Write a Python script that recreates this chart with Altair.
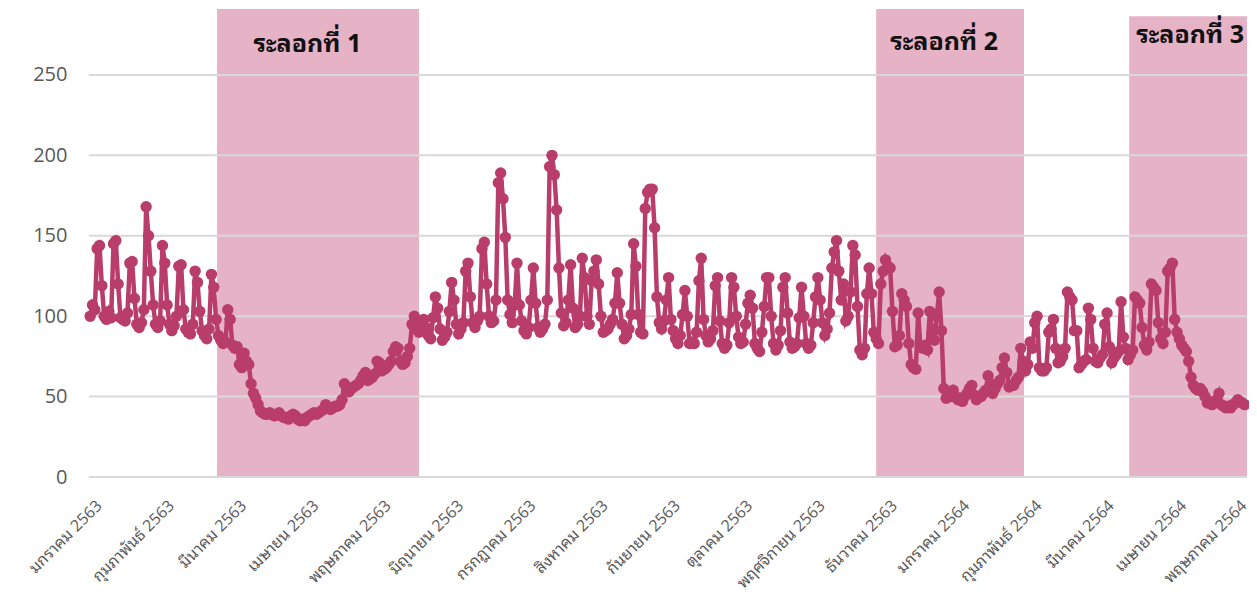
import altair as alt
import pandas as pd

# Daily values (index 0 = first day of มกราคม 2563)
values = [
    100, 107, 104, 142, 144, 119, 100,
    98, 103, 99, 145, 147, 120, 99,
    98, 97, 102, 133, 134, 111, 95,
    93, 96, 104, 168, 150, 128, 107,
    95, 93, 97, 144, 133, 107, 95,
    91, 94, 100, 131, 132, 104, 92,
    90, 89, 95, 128, 121, 103, 91,
    88, 86, 92, 126, 118, 98, 88,
    85, 83, 84, 104, 98, 82, 80,
    81, 70, 68, 77, 72, 70, 58,
    52, 49, 45, 41, 40, 39, 39,
    40, 39, 38, 39, 40, 38, 37,
    37, 36, 38, 39, 38, 36, 35,
    36, 35, 37, 38, 39, 40, 39,
    40, 41, 42, 45, 43, 42, 43, 44,
    44, 45, 48, 58, 54, 53, 55,
    56, 57, 58, 60, 63, 65, 60,
    61, 62, 64, 72, 71, 66, 67,
    68, 70, 72, 78, 81, 80, 72,
    70, 71, 75, 80, 95, 100, 92,
    90, 96, 98, 93, 88, 86, 99,
    112, 105, 92, 85, 87, 90, 103,
    121, 110, 95, 89, 92, 96, 128,
    133, 112, 96, 93, 97, 100, 142,
    146, 120, 100, 96, 97, 110, 183,
    189, 173, 149, 110, 101, 96, 107,
    133, 107, 97, 91, 89, 93, 110,
    130, 108, 93, 90, 92, 95, 110,
    193, 200, 188, 166, 130, 102, 94,
    96, 110, 132, 105, 93, 95, 100,
    136, 124, 100, 95, 122, 128, 135,
    120, 100, 90, 91, 92, 95, 98, 108,
    127, 108, 95, 86, 88, 92, 101,
    145, 131, 101, 90, 89, 167, 177,
    179, 179, 155, 112, 96, 92, 97,
    110, 124, 98, 91, 86, 83, 88,
    101, 116, 100, 83, 84, 83, 90,
    122, 136, 98, 88, 84, 86, 91,
    119, 124, 97, 83, 80, 82, 96,
    124, 118, 100, 87, 83, 84, 95,
    108, 113, 105, 83, 80, 78, 90,
    106, 124, 124, 100, 83, 79, 82,
    91, 118, 124, 102, 84, 80, 81, 83,
    99, 118, 100, 83, 80, 82, 96,
    112, 124, 110, 96, 88, 92, 102,
    130, 140, 147, 128, 110, 120, 97,
    100, 115, 144, 138, 106, 79, 76,
    80, 114, 130, 114, 90, 86, 83,
    120, 128, 135, 131, 130, 103, 81,
    82, 88, 114, 110, 106, 83, 70,
    68, 67, 102, 81, 80, 82, 79,
    103, 90, 85, 100, 115, 91, 55,
    49, 51, 50, 54, 50, 48, 49,
    47, 50, 52, 55, 57, 51, 48,
    50, 50, 52, 54, 63, 58, 52,
    55, 58, 60, 68, 74, 65, 56,
    57, 57, 60, 62, 80, 72, 66,
    70, 84, 80, 96, 100, 68, 66,
    66, 68, 90, 92, 98, 80, 71,
    72, 75, 80, 115, 112, 110, 91,
    91, 68, 70, 72, 73, 105, 98,
    80, 72, 71, 74, 76, 95, 102,
    81, 71, 74, 76, 78, 109, 87,
    80, 73, 76, 79, 112, 110, 108,
    93, 82, 79, 84, 120, 118, 116,
    96, 86, 83, 90, 128, 130, 133,
    98, 90, 86, 82, 80, 78, 72,
    62, 57, 55, 54, 55, 53, 50,
    46, 47, 45, 46, 48, 52, 45,
    44, 43, 44, 43, 45, 46, 48,
    47, 46, 45,
]

month_labels = [
    "มกราคม 2563", "กุมภาพันธ์ 2563", "มีนาคม 2563", "เมษายน 2563",
    "พฤษภาคม 2563", "มิถุนายน 2563", "กรกฎาคม 2563", "สิงหาคม 2563",
    "กันยายน 2563", "ตุลาคม 2563", "พฤศจิกายน 2563", "ธันวาคม 2563",
    "มกราคม 2564", "กุมภาพันธ์ 2564", "มีนาคม 2564", "เมษายน 2564",
    "พฤษภาคม 2564",
]
month_ticks = [0, 31, 62, 93, 124, 155, 186, 217, 248, 279, 310, 341,
               372, 403, 434, 465, 496]

wave_names = ["ระลอกที่ 1", "ระลอกที่ 2", "ระลอกที่ 3"]
wave_start = [54.4, 337, 445.5]
wave_end = [141, 400.4, 496]
wave_top = [291, 291, 286.5]

# annotation anchors (data units)
wave_label_x = [70, 343, 448.5]
wave_label_y = [264, 265.5, 270]

y_ticks = [0, 50, 100, 150, 200, 250]

series = pd.DataFrame({"i": list(range(len(values))), "v": values})
waves = pd.DataFrame({"name": wave_names, "s": wave_start, "e": wave_end,
                      "top": wave_top, "lx": wave_label_x, "ly": wave_label_y})
grid = pd.DataFrame({"g": y_ticks})

LINE = "#b93d6a"
PINK = "#e6b3c6"
AXIS_FONT = "Open Sans, Noto Sans Thai Looped, Loma, Noto Sans Thai, sans-serif"
WAVE_FONT = "Noto Sans Thai Looped, Tahoma, Loma, Noto Sans Thai, Noto Sans, sans-serif"

label_expr = "[" + ",".join("'" + m + "'" for m in month_labels) + "][indexof([" + \
    ",".join(str(t) for t in month_ticks) + "], datum.value)]"

x_scale = alt.Scale(domain=[-0.5, 496], nice=False, zero=False)
y_scale = alt.Scale(domain=[0, 291], nice=False)

x_axis = alt.Axis(values=month_ticks, labelExpr=label_expr, labelAngle=-45,
                  labelAlign="right", labelBaseline="top", labelPadding=20,
                  labelOffset={"condition": {"test": "datum.value == 496", "value": -9},
                               "value": 3},
                  labelFontSize=16, labelColor="#595959",
                  labelFont=AXIS_FONT, labelOverlap=False, labelFlush=False,
                  labelBound=False, ticks=False, domain=False, grid=False,
                  title=None)
y_axis = alt.Axis(values=y_ticks, labelFontSize=20, labelColor="#595959",
                  labelFont=AXIS_FONT, labelPadding=22, ticks=False,
                  domain=False, grid=False, title=None)

shade = alt.Chart(waves).mark_rect(color=PINK).encode(
    x=alt.X("s:Q", scale=x_scale, axis=x_axis),
    x2="e:Q",
    y=alt.Y("top:Q", scale=y_scale, axis=y_axis),
    y2=alt.datum(0),
)

rules = alt.Chart(grid).mark_rule(color="#d9d9d9", strokeWidth=2).encode(
    y=alt.Y("g:Q", scale=y_scale, axis=y_axis),
)

line = alt.Chart(series).mark_line(color=LINE, strokeWidth=4.5).encode(
    x=alt.X("i:Q", scale=x_scale, axis=x_axis),
    y=alt.Y("v:Q", scale=y_scale, axis=y_axis),
)

points = alt.Chart(series).mark_circle(color=LINE, size=130, opacity=1).encode(
    x=alt.X("i:Q", scale=x_scale, axis=x_axis),
    y=alt.Y("v:Q", scale=y_scale, axis=y_axis),
)

labels = alt.Chart(waves).mark_text(
    align="left", baseline="alphabetic", fontSize=25, fontWeight="bold",
    color="#111111", font=WAVE_FONT,
).encode(
    x=alt.X("lx:Q", scale=x_scale, axis=x_axis),
    y=alt.Y("ly:Q", scale=y_scale, axis=y_axis),
    text="name:N",
)

chart = alt.layer(shade, rules, line, points, labels).properties(
    width=1158, height=468,
    padding={"left": 81, "top": 1, "right": 2, "bottom": 121},
    autosize=alt.AutoSizeParams(type="none"),
).configure_view(strokeWidth=0)

chart.save("out.html", embed_options={"renderer": "svg", "actions": False})
